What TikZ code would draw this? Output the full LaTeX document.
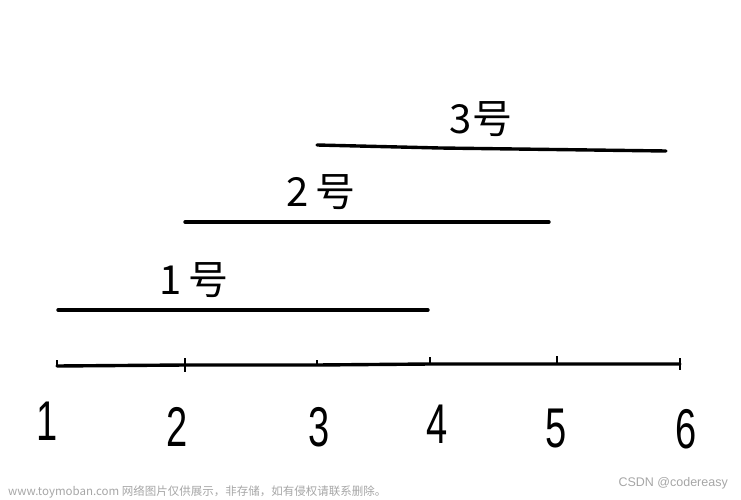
\documentclass[tikz,border=0pt]{standalone}
\usepackage{fontspec}
\setmainfont{Liberation Sans}
\newfontfamily\cjk{Noto Sans CJK SC}
\begin{document}
\begin{tikzpicture}[x=1pt,y=-1pt,
  seg/.style={line width=3.4pt,line cap=round},
  tick/.style={line width=1.8pt},
  num/.style={font=\fontsize{56}{56}\selectfont, xscale=0.68, inner sep=0pt},
  hao/.style={font=\fontsize{40}{40}\selectfont\cjk, inner sep=0pt},
  wm/.style={font=\fontsize{11.5}{12}\selectfont\cjk, text=black!35, inner sep=0pt}]
\useasboundingbox (0,0) rectangle (741,500);
% axis
\coordinate (a1) at (57,366);
\coordinate (a2) at (185,365);
\coordinate (a3) at (317,365);
\coordinate (a4) at (430,364);
\coordinate (a5) at (557,364);
\coordinate (a6) at (680,364);
\draw[seg] (a1) -- (a2) -- (a3) -- (a4) -- (a5) -- (a6);
\draw[tick] (a1) -- ++(0,-6);
\draw[tick] (a2) ++(0,-7) -- ++(0,14);
\draw[tick] (a3) -- ++(0,-5);
\draw[tick] (a4) -- ++(0,-7);
\draw[tick] (a5) -- ++(0,-8);
\draw[tick] (a6) ++(0,-6) -- ++(0,12);
% numbers
\node[num] (n1) at (47,421) {1};
\node[num] (n2) at (177,427) {2};
\node[num] (n3) at (319,427) {3};
\node[num] (n4) at (437,424) {4};
\node[num] (n5) at (556,429) {5};
\node[num] (n6) at (686,429) {6};
% intervals
\coordinate (l1s) at (58,310);
\coordinate (l1e) at (428,310);
\draw[seg] (l1s) -- (l1e);
\coordinate (l2s) at (185,222);
\coordinate (l2e) at (549,222);
\draw[seg] (l2s) -- (l2e);
\coordinate (l3s) at (317,145);
\coordinate (l3m) at (440,148);
\coordinate (l3e) at (666,151);
\draw[seg] (l3s) -- (l3m) -- (l3e);
% labels
\node[hao] (h1) at (194,280) {1\,\cjk 号};
\node[hao] (h2) at (321,192) {2\,\cjk 号};
\node[hao] (h3) at (481,119) {3\cjk 号};
% watermarks
\node[wm, anchor=west] (w1) at (8,492) {www.toymoban.com 网络图片仅供展示，非存储，如有侵权请联系删除。};
\node[wm, anchor=east, font=\fontsize{12.5}{13}\selectfont] (w2) at (728,483) {CSDN @codereasy};
\end{tikzpicture}
\end{document}
